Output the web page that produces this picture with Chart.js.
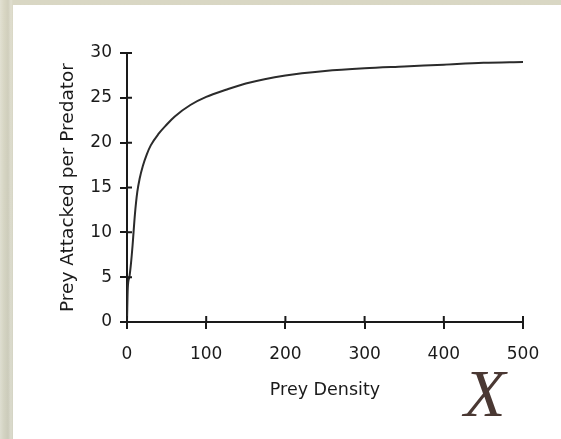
<!DOCTYPE html>
<html>
<head>
<meta charset="utf-8">
<script src="https://cdn.jsdelivr.net/npm/chart.js@4"></script>
<style>
    html, body { margin: 0; padding: 0; }
    body {
        width: 561px; height: 439px; overflow: hidden; position: relative;
        background:
            linear-gradient(90deg, rgba(255,255,255,0.25) 0px, rgba(0,0,0,0) 4px, rgba(0,0,0,0.04) 8px, rgba(255,255,255,0.2) 11px, rgba(0,0,0,0) 13px),
            linear-gradient(180deg, #d9d7c4 0%, #d6d5c3 40%, #d3d3c2 100%);
    }
    #panel { position: absolute; left: 13px; top: 5px; width: 548px; height: 434px; background: #fff; }
    #c { position: absolute; left: 0; top: 0; }
    #mark {
        position: absolute; left: 464px; top: 359px;
        font-family: "Liberation Serif", serif; font-style: italic;
        font-size: 68px; line-height: 1; color: #4a3833;
    }
</style>
</head>
<body>
<div id="panel"></div>
<canvas id="c" width="561" height="439"></canvas>
<div id="mark">X</div>
<script>
    const preyDensity = [0, 1, 3, 5, 7, 10, 13, 16, 20, 25, 30, 40, 50, 60, 80, 100, 125, 150, 200, 250, 300, 350, 400, 450, 500];
    const preyAttacked = [0, 3.8, 5, 6.5, 8.5, 12, 14.5, 16, 17.4, 18.7, 19.7, 21, 22, 22.9, 24.2, 25.1, 25.9, 26.6, 27.5, 28, 28.3, 28.5, 28.7, 28.9, 29];
    const xTicks = [0, 100, 200, 300, 400, 500];
    const yTicks = [0, 5, 10, 15, 20, 25, 30];
    const xTitle = 'Prey Density';
    const yTitle = 'Prey Attacked per Predator';

    const ink = '#1a1a1a';

    // ticks in the original cross the axis, so draw the inner half too
    const innerTicks = {
        id: 'innerTicks',
        afterDatasetsDraw(chart) {
            const { ctx, chartArea, scales } = chart;
            ctx.save();
            ctx.strokeStyle = ink;
            ctx.lineWidth = 2;
            ctx.beginPath();
            scales.x.ticks.forEach(function (t, i) {
                const px = scales.x.getPixelForTick(i);
                ctx.moveTo(px, chartArea.bottom);
                ctx.lineTo(px, chartArea.bottom - 6);
            });
            scales.y.ticks.forEach(function (t, i) {
                const py = scales.y.getPixelForTick(i);
                ctx.moveTo(chartArea.left, py);
                ctx.lineTo(chartArea.left + 5, py);
            });
            ctx.stroke();
            ctx.restore();
        }
    };

    Chart.defaults.font.family = '"DejaVu Sans", sans-serif';
    Chart.defaults.font.size = 17;
    Chart.defaults.color = ink;

    new Chart(document.getElementById('c'), {
        type: 'line',
        data: {
            datasets: [{
                data: preyDensity.map(function (x, i) { return { x: x, y: preyAttacked[i] }; }),
                borderColor: '#2b2b2b',
                borderWidth: 2,
                pointRadius: 0,
                cubicInterpolationMode: 'monotone',
                fill: false
            }]
        },
        options: {
            responsive: false,
            devicePixelRatio: 1,
            animation: false,
            layout: { padding: { left: 0, top: 53, right: 38, bottom: 37 } },
            plugins: { legend: { display: false }, tooltip: { enabled: false } },
            scales: {
                x: {
                    type: 'linear',
                    min: 0, max: 500,
                    afterBuildTicks: function (s) { s.ticks = xTicks.map(function (v) { return { value: v }; }); },
                    afterFit: function (s) { s.height = 80; },
                    ticks: { padding: 15, maxRotation: 0 },
                    grid: { drawOnChartArea: false, tickLength: 7, color: ink, lineWidth: 2 },
                    border: { color: ink, width: 2 },
                    title: { display: true, text: xTitle, font: { size: 17.5 }, padding: { top: 0, bottom: 1 } }
                },
                y: {
                    min: 0, max: 30,
                    afterBuildTicks: function (s) { s.ticks = yTicks.map(function (v) { return { value: v }; }); },
                    afterFit: function (s) { s.width = 127; },
                    ticks: { padding: 8 },
                    grid: { drawOnChartArea: false, tickLength: 7, color: ink, lineWidth: 2 },
                    border: { color: ink, width: 2 },
                    title: { display: true, text: yTitle, font: { size: 18.5 }, padding: { top: 57, bottom: 0 } }
                }
            }
        },
        plugins: [innerTicks]
    });
</script>
</body>
</html>
